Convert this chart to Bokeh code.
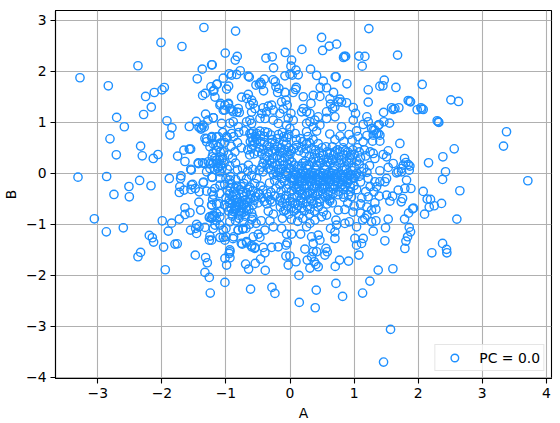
from bokeh.plotting import figure
from bokeh.embed import file_html
from bokeh.resources import INLINE
from bokeh.models import Legend, LegendItem, ColumnDataSource, FixedTicker
from bokeh.models import Range1d

x_ticks = [-3, -2, -1, 0, 1, 2, 3, 4]
y_ticks = [-4, -3, -2, -1, 0, 1, 2, 3]
series_label = "PC = 0.0"

top_left = [(-1.344,2.857),(-2.014,2.564),(-1.687,2.485),(-2.373,2.107),(-1.224,2.126),(-1.370,2.041),(-1.448,1.852),(-3.278,1.872),(-2.836,1.715),(-1.962,1.682),(-1.999,1.636),(-2.118,1.584),(-2.254,1.506),(-2.165,1.297),(-2.285,1.153),(-2.706,1.095),(-2.586,0.912),(-1.921,1.029),(-1.843,0.892),(-1.572,0.918),(-1.463,1.016),(-1.318,1.160),(-1.198,1.088),(-1.281,1.042),(-1.42,0.9),(-1.38,0.89),(-1.34,0.905),(-1.36,0.945),(-1.39,0.866),(-1.234,1.695),(-1.146,1.741),(-1.323,1.565),(-1.364,1.526),(-1.198,1.61),(-1.172,1.493),(-1.094,1.336),(-1.874,0.75)]

top_mid = [(-.85,2.786),(-1.011,2.355),(-.824,2.29),(-.855,2.218),(-1.214,2.126),(-.376,2.257),(-.278,2.283),(-.075,2.368),(.024,2.218),(.185,2.427),(.492,2.662),(.508,2.407),(.612,2.492),(.726,2.531),(.846,2.29),(.867,2.29),(.835,2.27),(1.074,2.296),(1.168,2.29),(1.126,2.1),(1.23,2.835),(-.257,2.067),(.014,2.1),(.092,2.022),(.32,2.041),(0.0,1.943),(-.08,1.91),(.034,1.924),(.128,1.93),(.414,1.917),(-.777,2.009),(-.948,1.95),(-.834,1.937),(-.912,1.924),(-.652,1.904),(-.636,1.885),(-1.042,1.865),(-1.136,1.747),(-.959,1.708),(-.99,1.65),(-1.188,1.63),(-.402,1.845),(-.46,1.78),(-.48,1.747),(-.444,1.741),(-.532,1.728),(-.413,1.617),(-.262,1.832),(-.231,1.793),(-.22,1.695),(-.174,1.663),(-.194,1.584),(-.08,1.584),(.097,1.682),(.086,1.643),(.05,1.584),(.518,1.806),(.57,1.676),(.471,1.682),(.705,1.891),(.72,1.891),(.887,1.754),(1.22,1.636),(1.22,1.395),(1.402,1.708),(.679,1.584),(.466,1.506),(.362,1.526),(.206,1.5),(.622,1.46),(.778,1.454),(.752,1.4),(.804,1.395),(.882,1.382),(.632,1.356),(.7,1.3),(.664,1.27),(.326,1.369),(-.756,1.493),(-.652,1.545),(-.678,1.467),(-.6,1.434),(-.574,1.369),(-.626,1.336),(-.548,1.27),(-.6,1.2),(-1.084,1.369),(-1.016,1.336),(-.964,1.356),(-.938,1.27),(-1.042,1.238),(-.808,1.27),(-.886,1.205),(-.792,1.192),(-.418,1.284),(-.34,1.317),(-.288,1.336),(-.366,1.205),(-.44,1.17),(-.262,1.238),(-.132,1.4),(-.064,1.434),(-.044,1.336),(-.106,1.258),(-.158,1.173),(.014,1.173),(-.028,1.075),(.206,1.27),(.258,1.205),(.31,1.173),(.18,1.205),(.44,1.107),(.57,1.205),(.7,1.107),(.57,1.075),(.986,1.29),(1.022,1.173),(.986,1.042),(.804,.912),(1.199,1.107),(1.22,1.01),(1.142,.957),(1.038,.83),(1.298,.846),(1.376,.944),(-1.198,1.088),(-1.068,.977),(-.886,1.01),(-.94,.98),(-.808,.912),(-.678,1.01),(-.626,1.04),(-.6,.977),(-.47,1.075),(-.39,1.075),(-.262,1.042),(-.184,.977),(-.054,.944),(.05,1.04),(.31,1.01),(.388,1.042),(.466,.944),(.362,.912),(.258,.977),(-.574,.814),(-.47,.826),(-.392,.814),(-.52,.78),(-.626,.78),(-.002,.88),(.258,.814),(.414,.826),(-.912,.78)]

top_right = [(1.678,2.316),(1.47,1.826),(1.449,1.715),(1.652,1.682),(2.062,1.741),(2.51,1.44),(2.629,1.408),(1.844,1.427),(1.87,1.414),(1.88,1.401),(1.698,1.284),(1.584,1.284),(1.61,1.251),(1.636,1.27),(1.459,1.193),(1.984,1.245),(2.042,1.284),(2.078,1.251),(2.055,1.26),(2.296,1.029),(2.312,1.01),(2.322,.997),(1.553,.984),(1.464,1.01),(1.392,.957),(3.378,.814),(1.324,.846),(1.376,.781),(1.272,.879)]

mid_right = [(3.331,.533),(3.711,-.146),(2.562,.48),(2.385,.324),(2.161,.206),(2.426,.03),(2.38,-.12),(2.65,-.342),(2.078,-.355),(2.14,-.506),(2.192,-.512),(2.25,-.636),(2.172,-.662),(2.364,-.59),(2.099,-.8),(2.603,-.897),(1.927,-.682),(1.912,-.695),(1.849,-.78),(1.787,-.897),(1.532,-.897),(1.49,-1.067),(1.298,-1.133),(1.48,-1.322),(1.86,-1.06),(1.88,-1.146),(1.834,-1.243),(1.808,-1.328),(1.792,-1.472),(2.38,-1.374),(2.442,-1.49),(2.447,-1.557),(2.213,-1.557),(1.714,.585),(1.532,.441),(1.454,.369),(1.506,.324),(1.324,.291),(1.298,.389),(1.402,.748),(1.402,.63),(1.288,.63),(1.298,.748),(1.35,.78),(1.61,.193),(1.787,.291),(1.808,.212),(1.844,.173),(1.87,.141),(1.766,.16),(1.74,.095),(1.532,.115),(1.402,.05),(1.688,.03),(1.74,.03),(1.662,.01),(1.86,.062),(1.818,-.133),(1.506,-.101),(1.48,-.166),(1.792,-.297),(1.886,-.297),(1.688,-.329),(1.324,-.166),(1.402,-.166),(1.35,-.264),(1.308,-.362),(1.506,-.427),(1.6,-.447),(1.392,-.447),(1.558,-.545),(1.756,-.493),(1.735,-.558),(1.324,-.577),(1.34,-.702),(1.272,-.721),(1.34,-.93),(1.272,-.95)]

mid_left = [(-2.81,.676),(-2.332,.533),(-2.711,.363),(-2.306,.343),(-2.061,.369),(-2.134,.291),(-1.754,.337),(-1.656,.454),(-1.572,.474),(-1.551,.474),(-1.64,.232),(-1.432,.206),(-1.364,.206),(-1.541,.062),(-3.309,-.075),(-2.862,-.062),(-2.347,-.14),(-2.17,-.244),(-2.514,-.258),(-2.748,-.414),(-2.508,-.46),(-1.884,-.101),(-1.702,-.049),(-1.708,-.101),(-1.728,-.375),(-1.655,-.329),(-1.52,-.218),(-1.546,-.316),(-1.479,-.297),(-1.354,-.186),(-1.302,-.349),(-1.416,-.362),(-1.422,-.564),(-1.64,-.675),(-1.395,-.721),(-1.64,-.806),(-1.562,-.773),(-1.728,-.897),(-1.848,-.976),(-1.994,-.93),(-3.054,-.891),(-2.867,-1.146),(-2.602,-1.067),(-1.9,-1.132),(-2.196,-1.217),(-2.149,-1.263),(-2.129,-1.348),(-1.973,-1.446),(-1.796,-1.387),(-1.76,-1.381),(-2.332,-1.55),(-2.373,-1.635),(-1.479,-1.603),(-1.318,-1.65),(-1.458,-1.0),(-1.473,-1.08),(-1.421,-1.048),(-1.552,-1.113),(-1.458,-1.178),(-1.328,-1.06),(-1.198,-1.08),(-1.172,-1.015),(-1.25,-1.23),(-1.26,-1.31),(-1.094,-1.257),(-1.213,-.852),(-1.26,-.865),(-1.172,-.839),(-1.224,-.623),(-1.208,-.512),(-1.146,-.604),(-1.198,-.427),(-1.094,-.395),(-1.172,-.297),(-1.094,-.231),(-1.213,-.081),(-1.302,.03),(-1.25,.095),(-1.172,.076),(-1.094,.03),(-1.276,.226),(-1.213,.324),(-1.198,.193),(-1.146,.258),(-1.094,.324),(-1.12,.128),(-1.328,.683),(-1.302,.618),(-1.224,.702),(-1.146,.715),(-1.12,.52),(-1.156,.552)]

bottom = [(-1.947,-1.889),(-1.291,-1.752),(-1.328,-1.942),(-1.26,-2.04),(-1.245,-2.346),(-1.016,-2.137),(-.616,-2.268),(-.283,-2.235),(-.236,-2.353),(.144,-2.529),(.393,-2.634),(.409,-2.288),(.716,-2.157),(.82,-2.412),(1.132,-2.346),(1.246,-2.111),(1.376,-1.896),(.139,-2.0),(-.028,-1.798),(.092,-1.733),(.31,-1.857),(.44,-1.831),(.404,-1.785),(.378,-1.733),(.269,-1.7),(.705,-1.824),(.773,-1.7),(.913,-1.72),(-.387,-1.902),(-.694,-1.778),(-.647,-1.876),(-.543,-1.765),(-.46,-1.68),(-.99,-1.798),(-1.016,-1.667),(-.938,-1.654),(-.064,-1.62),(-.002,-1.62),(.336,-1.635),(.544,-1.602),(1.074,-1.602),(1.605,-1.87),(1.568,-3.058),(1.459,-3.698)]

lower_mid = [(-.88,-1.244),(-1.042,-1.113),(-1.042,-1.256),(-1.016,-1.309),(-.938,-1.537),(-.808,-1.113),(-.74,-1.093),(-.688,-1.08),(-.746,-1.387),(-.678,-1.361),(-.6,-1.44),(-.548,-1.452),(-.574,-1.244),(-.496,-1.191),(-.47,-1.256),(-.392,-1.113),(-.418,-1.452),(-.392,-1.557),(-.288,-1.452),(-.184,-1.44),(-.064,-1.407),(-.044,-1.361),(-.314,-.93),(-.262,-1.048),(-.132,-1.08),(-.054,-1.191),(.024,-1.191),(.165,-1.191),(.258,-1.048),(.336,-1.244),(.44,-1.21),(.466,-1.309),(.362,-1.374),(.232,-1.485),(.414,-1.537),(.362,-1.537),(.56,-1.472),(.58,-1.537),(.7,-1.146),(.7,-1.276),(.632,-1.08),(.726,-1.015),(.716,-.917),(.856,-.982),(.924,-.95),(1.038,-1.048),(1.132,-.917),(1.168,-.884),(1.012,-1.276),(1.142,-1.276),(1.038,-1.407),(1.116,-1.374),(.752,-.721),(.856,-.708),(.57,-.819),(.518,-.754),(.492,-.852),(.388,-.917),(.31,-.982),(-1.224,-1.309),(-1.146,-.786),(-1.094,-.852),(-1.224,-.884),(-1.094,-1.015),(-.94,-.95),(-.85,-.93),(-.72,-.96),(-.6,-.9),(-.53,-.98),(-.45,-.93)]

core_upper = [(-1.05,.8),(-.98,.7),(-.88,.72),(-.8,.8),(-.72,.83),(-.6,.7),(-.52,.66),(-.4,.72),(-.3,.75),(-.2,.68),(-.12,.8),(-.05,.7),(.08,.78),(.16,.68),(.28,.72),(.36,.66),(.62,.77),(.7,.66),(.78,.73),(.84,.62),(.92,.76),(.97,.65),(1.06,.72),(1.14,.62),(1.2,.74),(-1.02,.6),(-.92,.53),(-.82,.6),(-.76,.5),(-.66,.46),(-.58,.55),(-.48,.5),(-.4,.6),(-.32,.52),(-.24,.58),(-.14,.5),(-.06,.57),(.02,.45),(.1,.55),(.18,.5),(.26,.58),(.33,.48),(.44,.58),(.5,.5),(.58,.42),(.66,.52),(.74,.46),(.83,.5),(.9,.42),(1.05,.5),(1.16,.46),(1.25,.42),(-1.04,.42),(-.96,.36),(-.86,.42),(-.9,.3),(-.63,.36),(-.56,.38),(-.44,.38),(-.36,.32),(-.28,.42),(-.2,.34),(-.12,.4),(-.03,.36),(.22,.4),(.3,.33),(.38,.38),(.45,.3),(.52,.36),(.6,.3),(.68,.36),(.76,.32),(.84,.36),(.93,.3),(1.0,.37),(1.1,.3),(1.18,.34),(-1.03,.2),(-.94,.14),(-.85,.2),(-.65,.16),(-.58,.08),(-.44,.12),(-.36,.18),(-.28,.2),(-.2,.16),(-.12,.24),(-.04,.18),(.03,.22),(.2,.2),(.26,.15),(.34,.22),(.41,.16),(.48,.2),(.56,.14),(.63,.2),(.7,.14),(.78,.2),(.85,.13),(.92,.2),(1.0,.12),(1.08,.18),(1.15,.1),(1.24,.15),(-.98,.08),(-.82,.07),(-.74,.1),(-.66,.04),(-.3,.07),(-.22,.03),(-.14,.09),(-.07,.04),(.0,.1),(.07,.03),(.14,.09),(.2,.04),(.27,.08),(.33,.02),(.4,.06),(.47,.01),(.54,.07),(.61,.02),(.68,.05),(.75,.01),(.82,.06),(.9,.01),(.97,.05),(1.04,.0),(1.12,.03),(1.2,.02)]

core_lower = [(-1.0,-.1),(-.93,-.06),(-.85,-.12),(-.76,-.05),(-.68,-.11),(-.6,-.04),(-.52,-.1),(-.2,-.04),(-.13,-.1),(-.06,-.05),(.01,-.1),(.08,-.04),(.15,-.1),(.22,-.05),(.29,-.1),(.36,-.04),(.43,-.11),(.5,-.05),(.57,-.1),(.64,-.04),(.71,-.09),(.78,-.05),(.85,-.1),(.92,-.05),(1.0,-.1),(1.08,-.06),(1.22,-.1),(-1.02,-.22),(-.92,-.2),(-.83,-.25),(-.72,-.2),(-.63,-.27),(-.55,-.2),(-.46,-.25),(-.32,-.19),(-.24,-.14),(-.16,-.22),(-.09,-.16),(-.02,-.22),(.05,-.15),(.12,-.21),(.19,-.16),(.26,-.22),(.33,-.16),(.4,-.21),(.47,-.17),(.54,-.22),(.61,-.16),(.68,-.22),(.75,-.17),(.82,-.22),(.9,-.18),(1.0,-.24),(1.1,-.17),(1.25,-.26),(-.98,-.34),(-.88,-.36),(-.78,-.32),(-.68,-.38),(-.58,-.34),(-.5,-.38),(-.42,-.33),(-.3,-.37),(-.22,-.3),(-.14,-.35),(-.06,-.3),(.02,-.35),(.09,-.29),(.16,-.35),(.23,-.3),(.3,-.36),(.37,-.3),(.44,-.36),(.52,-.31),(.6,-.36),(.68,-.31),(.76,-.36),(.84,-.32),(.94,-.36),(1.04,-.32),(1.18,-.36),(-1.0,-.48),(-.9,-.46),(-.82,-.5),(-.72,-.46),(-.62,-.5),(-.54,-.46),(-.44,-.48),(-.34,-.46),(-.24,-.44),(-.15,-.48),(-.06,-.43),(.03,-.48),(.11,-.44),(.18,-.48),(.25,-.43),(.32,-.5),(.4,-.44),(.47,-.5),(.55,-.46),(.62,-.5),(.84,-.47),(.96,-.46),(1.12,-.48),(1.22,-.46),(-1.02,-.62),(-.94,-.58),(-.86,-.64),(-.8,-.57),(-.72,-.62),(-.66,-.56),(-.58,-.62),(-.5,-.58),(-.36,-.6),(-.28,-.56),(-.12,-.58),(-.05,-.64),(.04,-.58),(.12,-.63),(.2,-.58),(.27,-.65),(.36,-.6),(.44,-.66),(.58,-.6),(.66,-.58),(.9,-.58),(1.0,-.64),(1.1,-.6),(1.2,-.66),(-.96,-.74),(-.86,-.72),(-.76,-.78),(-.68,-.72),(-.6,-.78),(-.34,-.74),(-.26,-.8),(-.1,-.74),(-.02,-.8),(.06,-.74),(.14,-.82),(.22,-.74),(.3,-.8),(.38,-.74),(.98,-.76),(1.1,-.78),(1.2,-.82),(-.9,-.84),(-.8,-.88),(-.7,-.84),(-.58,-.86),(-.12,-.88),(.02,-.9),(.12,-.94),(.2,-.88)]

dense_left_edge = [(-1.17,.3),(-1.14,.2),(-1.1,.25),(-1.08,.15),(-1.05,.3),(-1.13,.1),(-1.06,.1),(-1.2,.4),(-1.15,.45),(-1.09,.42),(-1.25,.52),(-.96,1.37),(-.91,1.24),(-1.02,1.24),(-.83,1.2),(-1.3,.68),(-1.22,.72),(-1.12,.72),(-1.2,.58),(-1.09,.59),(-.99,.72),(-1.43,.19),(-1.34,.19),(-1.25,.19),(-1.55,.08),(-1.22,-.07),(-1.09,-.1),(-.94,-.13),(-1.35,-.17),(-1.54,-.23),(-1.72,-.26),(-1.22,-.36),(-1.12,-.59),(-1.22,-.62),(-1.09,-.75),(-1.2,-.82),(-1.25,-.85),(-1.15,-.92),(-1.0,-1.08),(-1.0,-1.24),(-.89,-1.28),(-.81,-1.11),(-.73,-1.08),(-.63,-1.0),(-.76,-1.37),(-.68,-1.34),(-.6,-1.41),(-.55,-1.47),(-.94,-1.5),(-.95,-1.57)]

dense_lobe_left = [(-.9,-.6),(-.85,-.7),(-.8,-.62),(-.75,-.68),(-.88,-.75),(-.83,-.57),(-.78,-.75),(-.92,-.68),(-.72,-.6),(-.8,-.82),(-.86,-.52),(-.7,-.52),(-.95,-.52),(-.68,-.66),(-.64,-.7),(-.84,-.64),(-.76,-.56),(-.9,-.8),(-.72,-.76),(-.98,-.66),(-.62,-.42),(-.74,-.38),(-.84,-.42),(-.94,-.4),(-.56,-.53),(-.48,-.41),(-.4,-.55),(-.31,-.52),(-.36,-.4),(-.16,-.54),(-.08,-.5),(-.15,-.66),(-.07,-.72),(.0,-.55),(.08,-.6),(.16,-.54),(.1,-.7),(.18,-.68),(.26,-.56),(.34,-.54),(.42,-.58),(.31,-.7),(.02,-.68),(-.86,-.29),(-.76,-.26),(-.66,-.31),(-.93,-.28)]

dense_upper_mid = [(-.6,.78),(-.54,.72),(-.46,.74),(-.35,.8),(-.28,.66),(-.18,.76),(-.1,.72),(-.02,.76),(-.62,.62),(-.55,.6),(-.46,.62),(-.36,.54),(-.28,.6),(-.2,.52),(-.1,.62),(-.02,.5),(-.6,.48),(-.5,.42),(-.42,.47),(-.34,.42),(-.24,.47),(-.16,.42),(-.08,.46),(.0,.38),(-.4,.28),(-.32,.25),(-.26,.3),(-.16,.3),(-.08,.3),(-.01,.27),(-.42,.2),(-.34,.1),(-.26,.13),(-.18,.08),(-.1,.16),(-.02,.1),(-.48,.06),(-.42,.03),(-.26,-.02),(-.16,.02),(-.04,.0),(-.58,.64),(.1,.66),(.2,.62),(.3,.6),(.06,.48),(.14,.44),(.25,.48),(.4,.46),(.46,.4),(.56,.52),(.62,.4),(.7,.42),(.78,.42),(.86,.44),(.94,.36),(.98,.46),(1.08,.42)]

dense_center_right = [(.06,.16),(.12,.14),(.18,.14),(.24,.24),(.3,.16),(.37,.28),(.44,.24),(.52,.26),(.58,.22),(.66,.26),(.72,.24),(.8,.26),(.88,.24),(.96,.26),(1.04,.24),(.1,-.02),(.17,.0),(.24,.0),(.31,-.03),(.38,.0),(.44,-.02),(.52,.0),(.58,-.03),(.66,.0),(.72,-.03),(.8,-.02),(.88,.08),(.95,-.02),(1.02,-.04),(.04,-.08),(.12,-.07),(.18,-.08),(.26,-.08),(.32,-.07),(.4,-.08),(.46,-.08),(.54,-.08),(.6,-.07),(.68,-.07),(.74,-.07),(.82,-.08),(.9,-.1),(.98,-.08),(.06,-.25),(.14,-.26),(.22,-.26),(.3,-.25),(.38,-.26),(.46,-.27),(.54,-.27),(.62,-.27),(.7,-.26),(.78,-.27),(.86,-.27),(.94,-.27),(.07,-.12),(.15,-.14),(.24,-.14),(.34,-.12),(.44,-.14),(.52,-.14),(.62,-.12),(.72,-.14),(.82,-.14),(.9,-.14),(.11,-.32),(.19,-.4),(.27,-.38),(.35,-.4),(.43,-.4),(.51,-.4),(.59,-.42),(.67,-.4),(.75,-.42),(.83,-.41),(.91,-.42),(.62,-.54),(.46,-.56)]

regions = [top_left, top_mid, top_right, mid_right, mid_left, bottom, lower_mid, core_upper, core_lower,
           dense_left_edge, dense_lobe_left, dense_upper_mid, dense_center_right]
A = [pt[0] for r in regions for pt in r]
B = [pt[1] for r in regions for pt in r]

p = figure(width=552, height=414, output_backend="svg", toolbar_location=None,
           x_range=Range1d(-3.66, 4.08), y_range=Range1d(-4.02, 3.19),
           frame_width=496, frame_height=368,
           min_border_left=54, min_border_right=2, min_border_top=10, min_border_bottom=10,
           background_fill_color="white", border_fill_color="white")
src = ColumnDataSource(dict(A=A, B=B))
r = p.scatter("A", "B", source=src, marker="circle", size=8.3, fill_color=None,
              line_color="#1E90FF", line_width=1.4)

for ax, label, ticks in ((p.xaxis[0], "A", x_ticks), (p.yaxis[0], "B", y_ticks)):
    ax.ticker = FixedTicker(ticks=ticks)
    ax.major_label_overrides = {t: str(t).replace("-", "\u2212") for t in ticks}
    ax.axis_label = label
    ax.axis_label_text_font = "DejaVu Sans"
    ax.axis_label_text_font_size = "13.9px"
    ax.axis_label_text_font_style = "normal"
    ax.axis_label_text_color = "black"
    ax.major_label_text_font = "DejaVu Sans"
    ax.major_label_text_font_size = "13.9px"
    ax.major_label_text_color = "black"
    ax.major_tick_in = 0
    ax.major_tick_out = 5
    ax.major_tick_line_width = 1.1
    ax.major_tick_line_color = "black"
    ax.minor_tick_line_color = None
    ax.axis_line_color = "black"
    ax.axis_line_width = 1.1
    ax.major_label_standoff = 4
    ax.axis_label_standoff = 4

for g, t in ((p.xgrid[0], x_ticks), (p.ygrid[0], y_ticks)):
    g.ticker = FixedTicker(ticks=t)
    g.grid_line_color = "#b0b0b0"
    g.grid_line_width = 1.1

p.outline_line_color = "black"
p.outline_line_width = 1.1
p.outline_line_alpha = 1

legend = Legend(items=[LegendItem(label=series_label, renderers=[r])], location="bottom_right",
                margin=7, padding=3, spacing=0,
                glyph_width=32, glyph_height=19, label_standoff=9,
                label_text_font="DejaVu Sans", label_text_font_size="13.9px", label_text_color="black",
                border_line_color="#cccccc", border_line_width=1.1,
                background_fill_color="white", background_fill_alpha=0.8,
                label_height=19)
p.add_layout(legend, "center")

open("out.html", "w").write(file_html(p, INLINE))
